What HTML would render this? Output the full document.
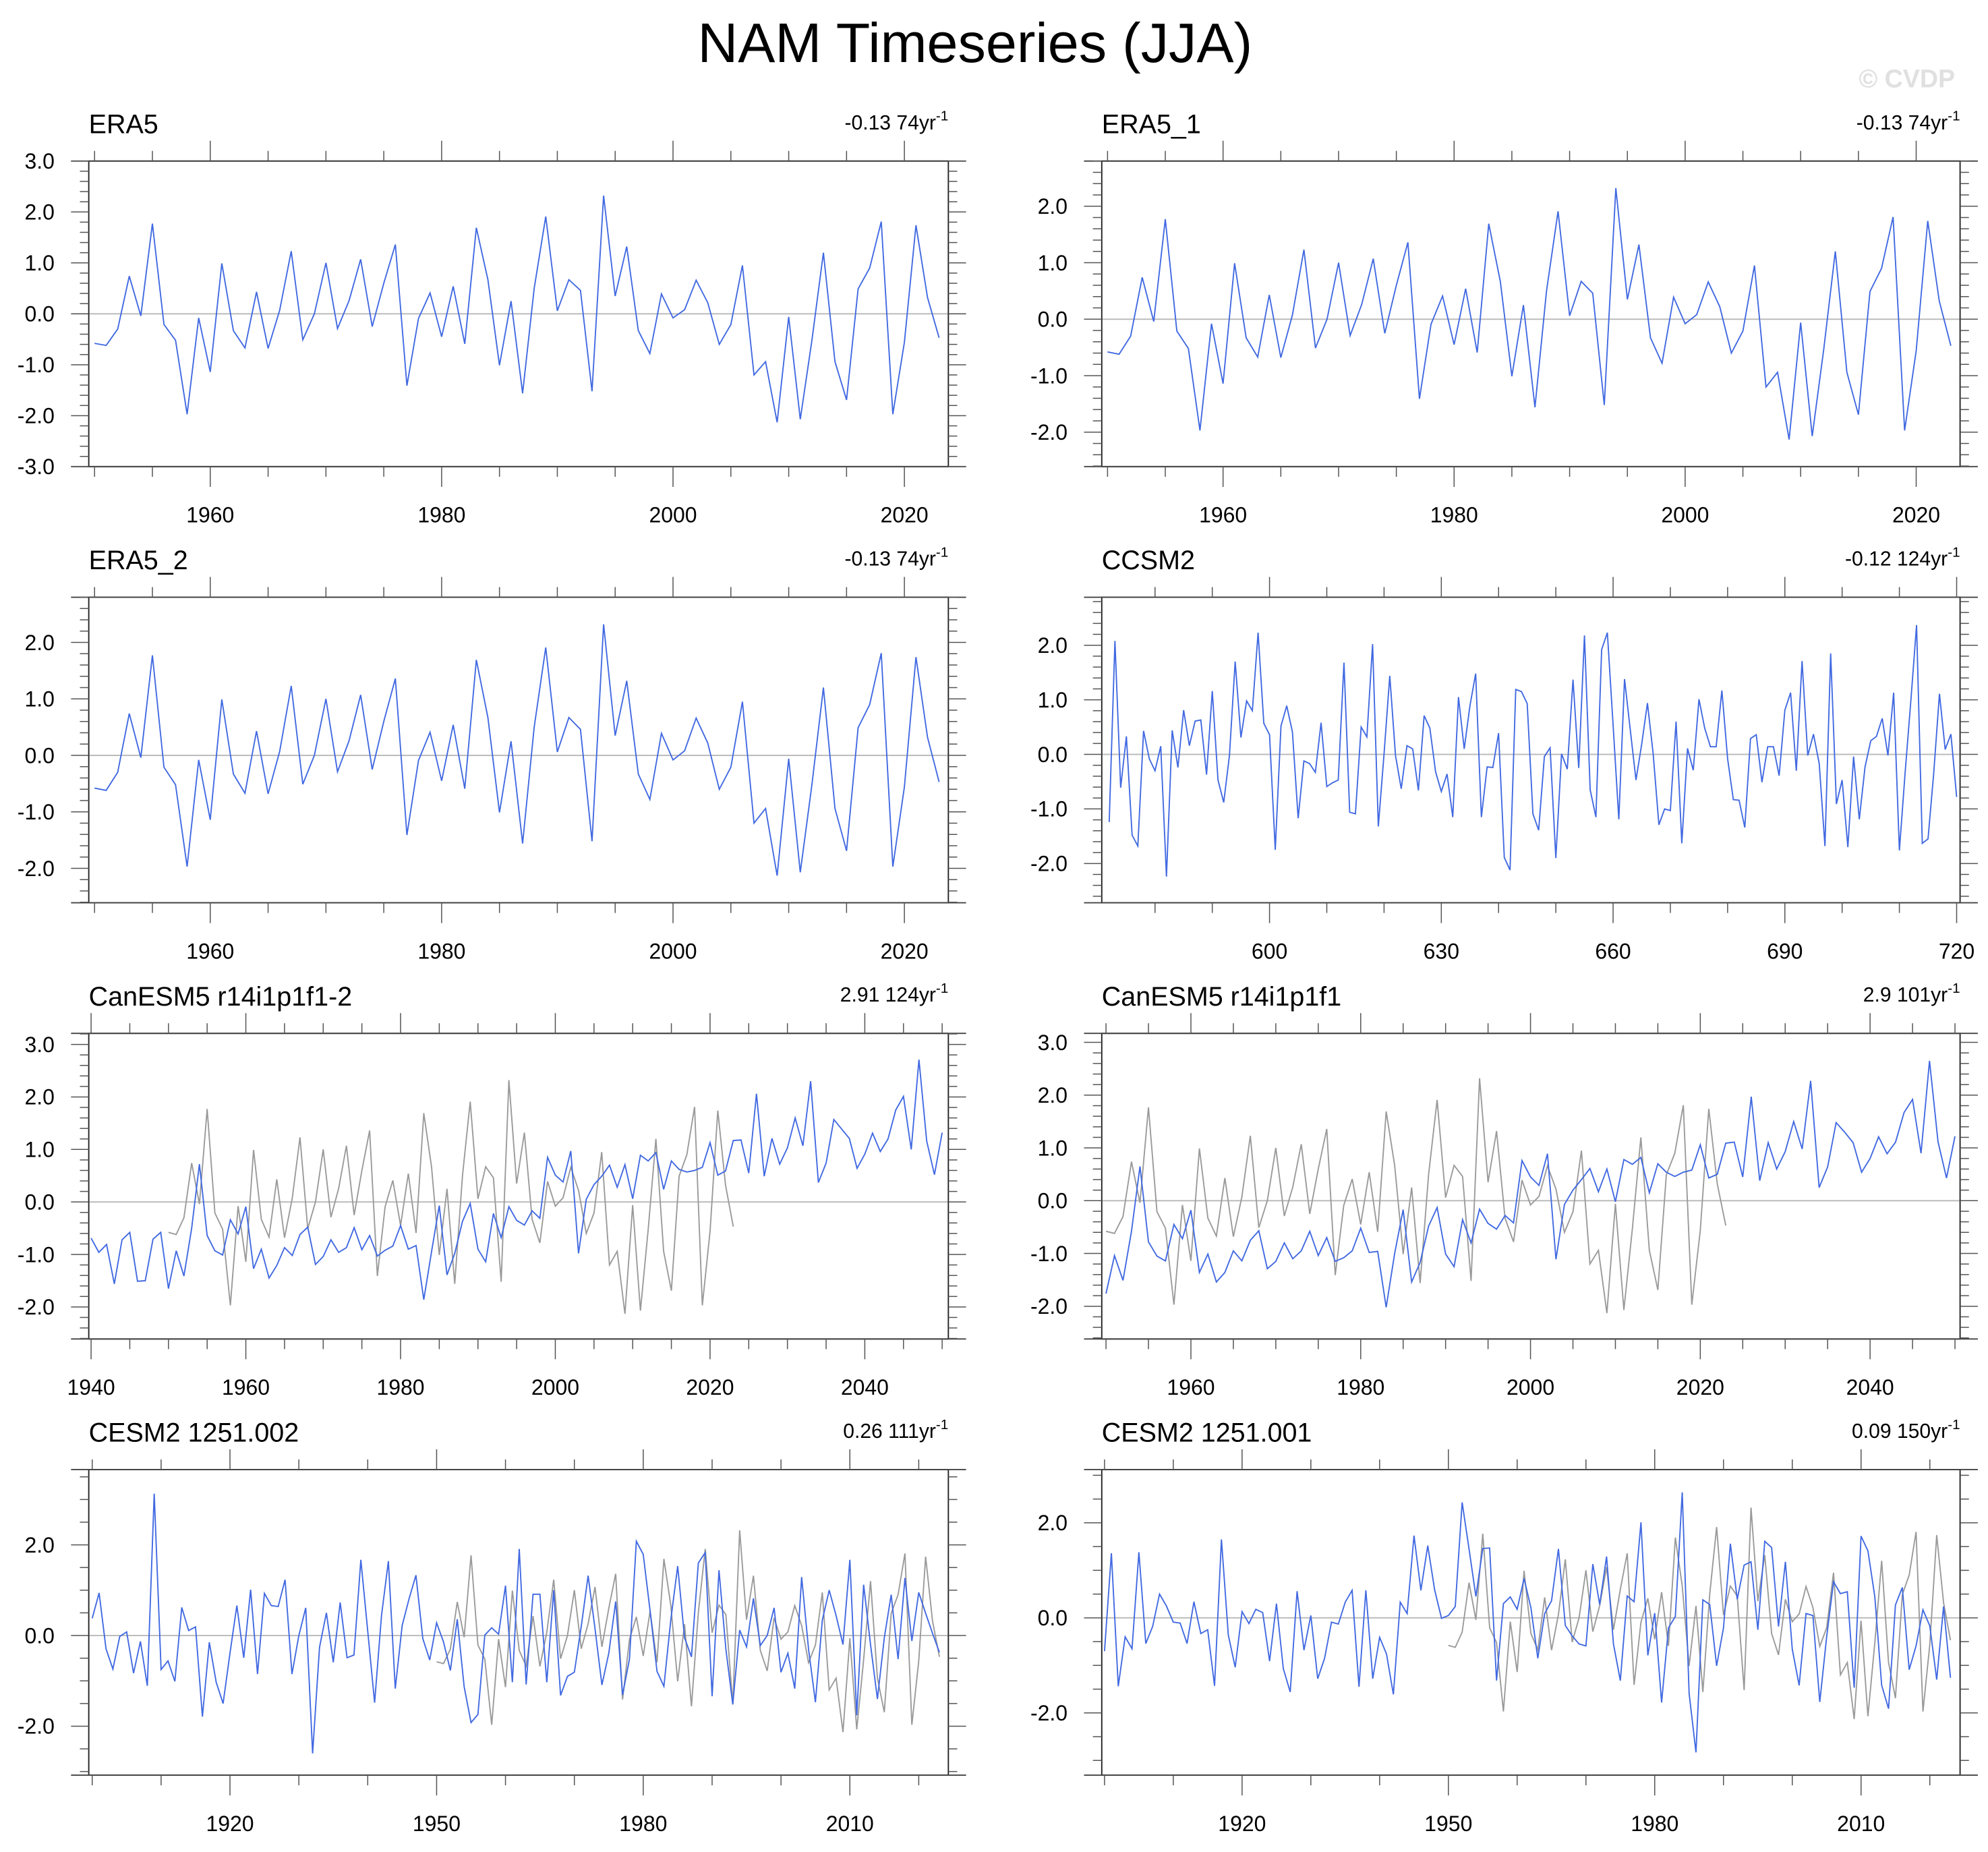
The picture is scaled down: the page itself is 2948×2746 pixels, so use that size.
<!DOCTYPE html>
<html><head><meta charset="utf-8"><title>NAM Timeseries (JJA)</title>
<style>html,body{margin:0;padding:0;background:#fff}svg{display:block}text{font-family:"Liberation Sans",sans-serif}</style>
</head><body>
<svg id="fig" xmlns="http://www.w3.org/2000/svg" width="2948" height="2746" viewBox="0 0 1568 1460.6">
<rect x="0" y="0" width="1568" height="1461" fill="#fff"/>
<text x="769" y="49" font-size="44" text-anchor="middle">NAM Timeseries (JJA)</text>
<text x="1542" y="69" font-size="20" font-weight="bold" text-anchor="end" fill="#e0e0e0">© CVDP</text>
</svg>
<script>
// ---- data ----
const era5Start = 1950;
const era5Values = [-0.58,-0.62,-0.30,0.74,-0.04,1.77,-0.21,-0.52,-1.97,-0.08,-1.14,0.99,-0.33,-0.67,0.43,-0.68,0.07,1.23,-0.51,0.0,1.0,-0.29,0.26,1.07,-0.25,0.6,1.36,-1.41,-0.09,0.41,-0.45,0.54,-0.59,1.69,0.67,-1.01,0.25,-1.56,0.5,1.91,0.06,0.67,0.46,-1.52,2.32,0.35,1.32,-0.33,-0.78,0.39,-0.08,0.08,0.66,0.22,-0.6,-0.21,0.95,-1.2,-0.94,-2.13,-0.06,-2.07,-0.53,1.2,-0.94,-1.69,0.49,0.9,1.81,-1.97,-0.56,1.74,0.32,-0.47];
const ccsm2End = 720;
const ccsm2Values = [-1.24,2.08,-0.61,0.33,-1.48,-1.68,0.43,-0.08,-0.30,0.15,-2.24,0.44,-0.24,0.81,0.16,0.61,0.63,-0.37,1.16,-0.47,-0.88,-0.02,1.70,0.31,0.98,0.80,2.23,0.57,0.36,-1.75,0.52,0.89,0.41,-1.17,-0.12,-0.17,-0.33,0.58,-0.59,-0.52,-0.47,1.68,-1.06,-1.09,0.50,0.32,2.02,-1.32,0.01,1.44,-0.02,-0.63,0.16,0.10,-0.66,0.71,0.48,-0.32,-0.68,-0.36,-1.15,1.05,0.10,0.89,1.48,-1.15,-0.23,-0.24,0.39,-1.89,-2.12,1.19,1.15,0.93,-1.09,-1.39,-0.04,0.12,-1.90,0.01,-0.27,1.37,-0.25,2.18,-0.65,-1.15,1.92,2.23,0.54,-1.19,1.38,0.45,-0.47,0.19,0.94,0.01,-1.29,-1.00,-1.03,0.60,-1.63,0.11,-0.29,1.01,0.48,0.14,0.14,1.17,-0.08,-0.83,-0.84,-1.34,0.29,0.36,-0.51,0.14,0.14,-0.39,0.81,1.13,-0.30,1.71,-0.02,0.37,-0.17,-1.68,1.85,-0.91,-0.47,-1.70,-0.04,-1.19,-0.23,0.25,0.33,0.66,-0.02,1.13,-1.76,-0.34,0.98,2.37,-1.63,-1.55,-0.34,1.11,0.09,0.37,-0.78];
const canLeftStart = 1940;
const canLeftValues = [-0.69,-0.96,-0.81,-1.56,-0.72,-0.58,-1.51,-1.50,-0.71,-0.58,-1.65,-0.93,-1.41,-0.5,0.72,-0.64,-0.93,-1.01,-0.34,-0.61,-0.09,-1.27,-0.9,-1.45,-1.21,-0.87,-1.02,-0.62,-0.48,-1.19,-1.04,-0.72,-0.96,-0.87,-0.49,-0.91,-0.64,-1.03,-0.92,-0.84,-0.45,-0.9,-0.83,-1.86,-0.95,-0.07,-1.39,-0.98,-0.37,-0.03,-0.9,-1.14,-0.22,-0.68,-0.09,-0.35,-0.44,-0.17,-0.31,0.85,0.51,0.38,0.97,-0.98,0.05,0.33,0.49,0.7,0.28,0.71,0.06,0.89,0.78,0.94,0.24,0.78,0.62,0.57,0.6,0.66,1.13,0.51,0.59,1.17,1.18,0.55,2.06,0.49,1.21,0.72,1.03,1.6,1.07,2.3,0.37,0.74,1.57,1.39,1.21,0.64,0.91,1.31,0.96,1.2,1.75,2.01,1.0,2.71,1.16,0.52,1.32];
const canRightStart = 1950;
const canRightValues = [-1.76,-1.04,-1.51,-0.58,0.65,-0.78,-1.05,-1.14,-0.45,-0.72,-0.18,-1.36,-1.01,-1.54,-1.36,-0.95,-1.14,-0.75,-0.57,-1.29,-1.15,-0.8,-1.1,-0.95,-0.58,-1.04,-0.7,-1.15,-1.08,-0.95,-0.52,-0.98,-0.96,-2.02,-1.0,-0.17,-1.54,-1.17,-0.48,-0.13,-1.01,-1.25,-0.36,-0.8,-0.16,-0.43,-0.54,-0.28,-0.42,0.76,0.45,0.29,0.89,-1.11,-0.07,0.2,0.4,0.61,0.17,0.6,-0.02,0.78,0.69,0.82,0.15,0.7,0.54,0.46,0.54,0.58,1.06,0.43,0.5,1.09,1.11,0.45,1.97,0.38,1.1,0.6,0.93,1.5,0.98,2.27,0.25,0.64,1.48,1.3,1.1,0.54,0.8,1.21,0.89,1.11,1.67,1.92,0.9,2.65,1.12,0.43,1.22];
const cesmStart = 1900;
const cesm002Values = [0.38,0.94,-0.29,-0.74,-0.02,0.08,-0.83,-0.13,-1.11,3.13,-0.75,-0.56,-1.01,0.62,0.11,0.19,-1.79,-0.15,-1.03,-1.50,-0.39,0.66,-0.49,1.01,-0.85,0.93,0.66,0.64,1.23,-0.85,0.0,0.61,-2.60,-0.26,0.50,-0.59,0.73,-0.49,-0.43,1.67,0.10,-1.48,0.44,1.64,-1.17,0.22,0.81,1.33,-0.07,-0.54,0.28,-0.14,-0.77,0.36,-1.13,-1.92,-1.74,0.01,0.17,0.03,1.10,-1.03,1.91,-1.08,0.91,0.91,-1.03,1.00,-1.32,-0.90,-0.81,0.20,1.32,0.15,-1.09,-0.39,0.75,-1.31,-0.52,2.08,1.79,0.54,-0.79,-1.12,0.34,1.53,-0.05,-0.47,1.60,1.83,-1.34,1.44,-0.30,-1.52,0.12,-0.25,0.82,-0.22,0.0,0.61,-0.81,-0.39,-1.17,1.29,-0.30,-1.47,0.34,1.00,0.44,-0.20,1.67,-1.76,1.12,-0.20,-1.40,-0.05,0.90,-0.52,1.27,-0.12,0.95,0.49,0.05,-0.37];
const cesm001Values = [-0.70,1.36,-1.44,-0.40,-0.65,1.38,-0.54,-0.18,0.50,0.25,-0.09,-0.11,-0.54,0.34,-0.33,-0.25,-1.43,1.65,-0.36,-1.04,0.13,-0.12,0.18,0.11,-0.91,0.30,-1.07,-1.56,0.56,-0.68,0.05,-1.28,-0.85,-0.09,-0.13,0.33,0.58,-1.45,0.58,-1.28,-0.41,-0.76,-1.61,0.33,0.09,1.73,0.58,1.52,0.59,-0.01,0.05,0.24,2.43,1.45,0.45,1.46,1.47,-1.32,0.30,0.44,0.18,0.83,0.21,-0.85,0.09,0.36,1.45,-0.16,-0.38,-0.55,-0.59,1.13,0.28,1.29,-0.55,-1.32,0.46,0.34,2.01,-0.79,0.10,-1.78,-0.21,0.03,2.64,-1.59,-2.83,0.38,0.28,-1.01,-0.21,1.56,0.39,1.11,1.18,-0.25,1.61,1.48,-0.18,1.18,-0.66,-1.42,0.09,0.05,-1.77,-0.40,0.76,0.51,0.55,-1.47,1.72,1.41,0.45,-1.42,-1.91,0.27,0.64,-1.09,-0.59,0.17,-0.17,-1.30,0.24,-1.26];
const panelTitles = ["ERA5","ERA5_1","ERA5_2","CCSM2","CanESM5 r14i1p1f1-2","CanESM5 r14i1p1f1","CESM2 1251.002","CESM2 1251.001"];
const trendValues = ["-0.13","-0.13","-0.13","-0.12","2.91","2.9","0.26","0.09"];
const trendYears = ["74","74","74","124","124","101","111","150"];

// ---- drawing ----
const NS = "http://www.w3.org/2000/svg";
const svg = document.getElementById('fig');
function mk(tag, attrs, parent) {
  const e = document.createElementNS(NS, tag);
  for (const k in attrs) e.setAttribute(k, attrs[k]);
  (parent || svg).appendChild(e);
  return e;
}
function yearsFrom(start, n) { const a = []; for (let i = 0; i < n; i++) a.push(start + i); return a; }

const BLUE = "#4169e1", GRAY = "#9a9a9a";
const colL = [70, 748], colR = [869, 1546];
const rows = [[127, 368], [471, 712], [815, 1056], [1159, 1400]];

function panel(p) {
  const g = mk('g', {});
  
  
  const [x0, x1] = p.col, [y0, y1] = p.row;
  const sx = v => x0 + (v - p.xmin) / (p.xmax - p.xmin) * (x1 - x0);
  const sy = v => y1 - (v - p.ymin) / (p.ymax - p.ymin) * (y1 - y0);
  const t = mk('text', {x: x0, y: y0 - 22, 'font-size': 21}, g);
  t.textContent = p.title;
  
  
  const tr = mk('text', {x: x1, y: y0 - 25, 'font-size': 16, 'text-anchor': 'end'}, g);
  
  
  tr.appendChild(document.createTextNode(p.trend + ' ' + p.yrs + 'yr'));
  const sup = mk('tspan', {dy: -7, 'font-size': 11}, tr);
  sup.textContent = '-1';
  const z = mk('line', {x1: x0, x2: x1, y1: sy(0), y2: sy(0), stroke: '#b8b8b8', 'stroke-width': 1}, g);
  
  
  p.series.forEach((s) => {
    const pts = s.values.map((v, i) => sx(s.x[i]).toFixed(2) + ',' + sy(v).toFixed(2)).join(' ');
    const pl = mk('polyline', {points: pts, fill: 'none', stroke: s.color, 'stroke-width': 1, 'stroke-linejoin': 'miter'}, g);
    
    
  });
  const fr = mk('rect', {x: x0, y: y0, width: x1 - x0, height: y1 - y0, fill: 'none', stroke: '#222', 'stroke-width': 1}, g);
  
  
  mk('line', {x1: x0 - 14, x2: x1 + 14, y1: y0, y2: y0, stroke: '#444', 'stroke-width': 1}, g);
  mk('line', {x1: x0 - 14, x2: x1 + 14, y1: y1, y2: y1, stroke: '#444', 'stroke-width': 1}, g);
  const yt = mk('g', {stroke: '#555', 'stroke-width': 0.8}, g);
  
  
  for (let v = Math.ceil(p.ymin / p.yMinor - 1e-6) * p.yMinor; v <= p.ymax + 1e-6; v += p.yMinor) {
    const vv = Math.round(v * 100) / 100;
    const isMaj = Math.abs(vv / p.yMajor - Math.round(vv / p.yMajor)) < 1e-6;
    const L = isMaj ? 14 : 7;
    const y = sy(vv);
    mk('line', {x1: x0 - L, x2: x0, y1: y, y2: y}, yt);
    mk('line', {x1: x1, x2: x1 + L, y1: y, y2: y}, yt);
    if (isMaj && y > y0 - 1 && y < y1 + 1) {
      const lb = mk('text', {x: x0 - 27, y: y + 6, 'font-size': 17, 'text-anchor': 'end', stroke: 'none', fill: '#000'}, g);
      lb.textContent = vv.toFixed(1);
      
      
    }
  }
  const xt = mk('g', {stroke: '#555', 'stroke-width': 0.8}, g);
  
  
  for (let v = Math.ceil(p.xmin / p.xMinor) * p.xMinor; v <= p.xmax; v += p.xMinor) {
    const isMaj = (v - p.xMajorBase) % p.xMajor === 0;
    const L = isMaj ? 16 : 8;
    const x = sx(v);
    mk('line', {x1: x, x2: x, y1: y0 - L, y2: y0}, xt);
    mk('line', {x1: x, x2: x, y1: y1, y2: y1 + L}, xt);
    if (isMaj) {
      const lb = mk('text', {x: x, y: y1 + 44, 'font-size': 17, 'text-anchor': 'middle', stroke: 'none', fill: '#000'}, g);
      lb.textContent = String(v);
      
      
    }
  }
}

const era5Years = yearsFrom(era5Start, era5Values.length);
const ccsmYears = yearsFrom(ccsm2End - ccsm2Values.length + 1, ccsm2Values.length);
const canLYears = yearsFrom(canLeftStart, canLeftValues.length);
const canRYears = yearsFrom(canRightStart, canRightValues.length);
const cesm2Years = yearsFrom(cesmStart, cesm002Values.length);
const cesm1Years = yearsFrom(cesmStart, cesm001Values.length);

const panels = [
  {name: 'panel-era5', col: colL, row: rows[0], xmin: 1949.5, xmax: 2023.8, ymin: -3, ymax: 3, yMajor: 1, yMinor: 0.2, xMajor: 20, xMajorBase: 1960, xMinor: 5,
   series: [{name: 'era5-series', x: era5Years, values: era5Values, color: BLUE}]},
  {name: 'panel-era5-1', col: colR, row: rows[0], xmin: 1949.5, xmax: 2023.8, ymin: -2.61, ymax: 2.8, yMajor: 1, yMinor: 0.2, xMajor: 20, xMajorBase: 1960, xMinor: 5,
   series: [{name: 'era5-1-series', x: era5Years, values: era5Values, color: BLUE}]},
  {name: 'panel-era5-2', col: colL, row: rows[1], xmin: 1949.5, xmax: 2023.8, ymin: -2.61, ymax: 2.8, yMajor: 1, yMinor: 0.2, xMajor: 20, xMajorBase: 1960, xMinor: 5,
   series: [{name: 'era5-2-series', x: era5Years, values: era5Values, color: BLUE}]},
  {name: 'panel-ccsm2', col: colR, row: rows[1], xmin: 570.7, xmax: 720.6, ymin: -2.72, ymax: 2.88, yMajor: 1, yMinor: 0.2, xMajor: 30, xMajorBase: 600, xMinor: 10,
   series: [{name: 'ccsm2-series', x: ccsmYears, values: ccsm2Values, color: BLUE}]},
  {name: 'panel-canesm5-r14-2', col: colL, row: rows[2], xmin: 1939.7, xmax: 2050.8, ymin: -2.61, ymax: 3.21, yMajor: 1, yMinor: 0.2, xMajor: 20, xMajorBase: 1940, xMinor: 5,
   series: [{name: 'era5-reference-series', x: era5Years, values: era5Values, color: GRAY}, {name: 'canesm5-r14-2-series', x: canLYears, values: canLeftValues, color: BLUE}]},
  {name: 'panel-canesm5-r14', col: colR, row: rows[2], xmin: 1949.5, xmax: 2050.6, ymin: -2.62, ymax: 3.17, yMajor: 1, yMinor: 0.2, xMajor: 20, xMajorBase: 1960, xMinor: 5,
   series: [{name: 'era5-reference-series', x: era5Years, values: era5Values, color: GRAY}, {name: 'canesm5-r14-series', x: canRYears, values: canRightValues, color: BLUE}]},
  {name: 'panel-cesm2-002', col: colL, row: rows[3], xmin: 1899.5, xmax: 2024.3, ymin: -3.08, ymax: 3.66, yMajor: 2, yMinor: 0.5, xMajor: 30, xMajorBase: 1920, xMinor: 10,
   series: [{name: 'era5-reference-series', x: era5Years, values: era5Values, color: GRAY}, {name: 'cesm2-002-series', x: cesm2Years, values: cesm002Values, color: BLUE}]},
  {name: 'panel-cesm2-001', col: colR, row: rows[3], xmin: 1899.6, xmax: 2024.4, ymin: -3.31, ymax: 3.12, yMajor: 2, yMinor: 0.5, xMajor: 30, xMajorBase: 1920, xMinor: 10,
   series: [{name: 'era5-reference-series', x: era5Years, values: era5Values, color: GRAY}, {name: 'cesm2-001-series', x: cesm1Years, values: cesm001Values, color: BLUE}]}
];
panels.forEach((p, i) => { p.title = panelTitles[i]; p.trend = trendValues[i]; p.yrs = trendYears[i]; panel(p); });
</script>
</body></html>
